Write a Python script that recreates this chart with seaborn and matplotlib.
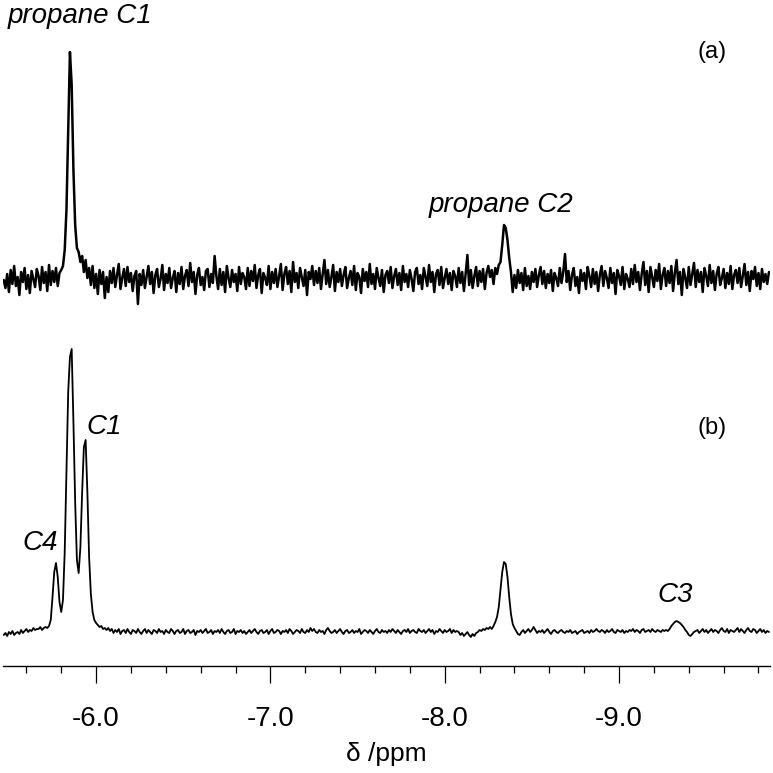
import numpy as np
import matplotlib
matplotlib.use("Agg")
import matplotlib.pyplot as plt
from matplotlib.ticker import MultipleLocator, FuncFormatter
import seaborn as sns

# chemical shift grid, 0.01 ppm steps
shift = np.round(-5.47 - 0.01 * np.arange(440), 2)

# (a) propane spectrum, intensity above its baseline
spec_a = [
    0, -8, 6, -12, 10, -4, 14, -6, 3, -15, 8, -2, 12, -9, 5, -13, 9, 1, -7, 11,
    4, -10, 13, -3, 8, -11, 15, -5, 9, -2, 12, -6, 7, 10, 14, 30, 70, 150, 228, 195,
    110, 55, 32, 28, 18, 24, 8, 20, 2, 12, -5, 14, -8, 6, -14, 10, -4, 8, -18, 3,
    -12, 9, -3, 12, -7, 5, 16, -9, 2, 11, -6, 13, -2, 7, -11, 4, 9, -24, 6, -5,
    10, -8, 3, 14, -4, 8, -13, 5, 11, -7, 1, 15, -10, 6, -3, 12, -8, 2, 9, -12,
    7, -4, 13, -9, 4, 10, -6, 17, -2, 8, -14, 5, 12, -5, 3, -10, 9, 11, -7, 6,
    -3, 24, 4, -9, 11, -5, 8, -12, 14, 2, -7, 10, -2, 6, -11, 13, -4, 7, 3, -9,
    12, -6, 9, -1, 15, -8, 5, 11, -13, 7, 2, -5, 14, -9, 8, -3, 11, -7, 4, 16,
    -10, 6, 13, -4, 9, -12, 18, -2, 7, -8, 12, 3, -6, 10, -15, 8, 1, 14, -5, 9,
    -3, 12, -9, 6, 20, -4, 10, -7, 3, 15, -11, 8, -2, 11, -6, 5, 13, -8, 2, 9,
    -5, 14, -10, 7, 3, -13, 11, -1, 8, -7, 16, -4, 6, -9, 12, 2, -6, 10, -12, 5,
    9, -3, 13, -8, 4, 11, -5, 7, -10, 14, -2, 6, -7, 10, 1, -11, 8, 12, -4, 5,
    -9, 12, 3, -6, 15, -2, 8, -12, 6, 10, -5, 13, -8, 2, 11, -4, 7, -10, 9, 4,
    -7, 12, -3, 8, -11, 6, 25, -5, 10, -8, 4, 13, -6, 9, -2, 11, -9, 7, 14, 3,
    10, -4, 12, 6, 15, 18, 35, 55, 52, 40, 22, 8, -12, 5, -8, 10, -3, 7, -10, 12,
    -6, 4, -9, 8, -2, 11, -7, 5, 13, -4, 9, -8, 6, -3, 10, -11, 7, 2, -6, 12,
    -3, 8, 26, -2, 9, -10, 5, 12, -6, 3, -13, 10, -1, 7, -9, 13, 4, -7, 11, -4,
    8, -11, 5, 14, -6, 9, 2, -8, 12, -3, 7, -14, 10, 4, -5, 13, -9, 6, 1, -7,
    11, -4, 15, -2, 8, -10, 6, 18, -5, 9, -12, 13, 3, -7, 10, -1, 16, -9, 5, 12,
    -6, 9, -3, 14, -11, 7, 20, -4, 8, -15, 11, 2, -8, 13, -5, 6, 17, -7, 10, -2,
    8, -12, 12, 4, -6, 15, -3, 9, -10, 6, 13, -5, 2, 11, -8, 7, -4, 14, -9, 5,
    10, -3, 12, -7, 4, 16, -5, 8, -11, 9, 1, 13, -6, 7, -9, 11, -2, 6, -4, 8,
]

# (b) spectrum, intensity above its baseline
spec_b = [
    -3, -1, -4, 0, -2, 1, -3, -1, 0, -2, 2, -1, 1, 3, 0, 2, 1, 4, 2, 3,
    3, 5, 2, 4, 5, 4, 6, 12, 35, 60, 69, 55, 30, 20, 32, 80, 160, 240, 275, 283,
    210, 130, 72, 59, 85, 140, 185, 192, 140, 75, 38, 20, 12, 9, 7, 5, 6, 3, 4, 2,
    4, 1, 3, -1, 2, 0, 3, -2, 1, 2, -1, 3, 0, -2, 2, 1, -1, 3, 0, -2,
    1, 3, -1, 2, 0, -2, 2, 1, -1, 3, 0, 1, -2, 2, 0, -1, 3, 1, -2, 1,
    2, -1, 0, 3, -2, 1, 2, -1, 0, 2, -3, 1, 0, 2, -1, 1, 3, -1, 0, 2,
    -2, 1, 0, 2, -1, 3, 0, -2, 1, 2, -1, 0, 3, -2, 1, 0, 2, -1, 1, -2,
    0, 2, -1, 1, 3, 0, -2, 1, 2, -1, 0, 2, -2, 1, 3, -1, 0, 2, 1, -2,
    1, 0, 2, -1, 3, 1, -2, 0, 2, 1, -1, 3, 0, -1, 2, 0, 4, 1, 3, 0,
    -1, 2, 0, 1, -2, 2, 4, 1, -1, 0, 2, -1, 1, 3, 0, -2, 1, 2, -1, 0,
    2, -1, 1, 0, 3, -2, 0, 2, 1, -1, 2, 0, -2, 1, 3, 0, -1, 2, 0, 1,
    -1, 2, 0, 3, 1, -1, 2, 0, -2, 1, 2, 0, 3, -1, 1, 2, 0, -1, 3, 1,
    0, 2, -1, 1, 3, 0, 2, -2, 1, 0, 3, 1, -1, 2, 0, 1, 3, -1, 2, 0,
    1, 0, -3, -1, -4, -2, 0, -3, -5, -2, -4, -1, 0, 2, 1, 3, 2, 4, 3, 5,
    3, 6, 10, 15, 25, 42, 60, 70, 68, 55, 35, 18, 8, 4, 1, -2, -3, 0, 2, -1,
    1, 3, 0, 2, 5, 2, -1, 1, 0, 2, -1, 1, 3, 0, -2, 1, 2, 0, -1, 1,
    2, 0, -1, 1, 0, 2, -1, 0, 1, -2, 0, 1, 2, -1, 0, 1, -1, 2, 0, 1,
    3, 1, 0, 2, 1, -1, 2, 0, 1, 3, 0, -1, 2, 1, 0, 2, -1, 1, 0, 2,
    1, 3, 0, 2, 1, -1, 2, 3, 0, 1, 2, 0, 3, 1, 0, 2, 1, 0, 2, 1,
    2, 1, 3, 6, 8, 10, 11, 10, 9, 7, 5, 2, 0, -3, -4, -2, 0, 1, 2, -1,
    1, 3, 0, 2, -1, 1, 3, 0, 2, 1, -1, 2, 4, 1, 0, 3, -1, 2, 1, 0,
    2, 4, 0, 3, 1, -1, 2, 4, 1, 0, 3, 2, -1, 1, 3, 0, 2, -1, 1, 0,
]

major_ticks = [-6.0, -7.0, -8.0, -9.0]

# vertical stacking of the two traces
offset_a = 386
offset_b = 34

sns.set_theme(style="white")
plt.rcParams['font.family'] = ['Liberation Sans', 'DejaVu Sans']
plt.rcParams['axes.unicode_minus'] = False
plt.rcParams['text.color'] = 'black'
plt.rcParams['axes.labelcolor'] = 'black'
plt.rcParams['xtick.color'] = 'black'

fig = plt.figure(figsize=(7.73, 7.73), dpi=100)
ax = fig.add_axes([3 / 773, 107 / 773, 767 / 773, 666 / 773])

sns.lineplot(x=shift, y=np.array(spec_a) + offset_a, ax=ax, color='black',
             lw=1.8, estimator=None, sort=False)
sns.lineplot(x=shift, y=np.array(spec_b) + offset_b, ax=ax, color='black',
             lw=1.3, estimator=None, sort=False)

ax.set_xlim(-5.466, -9.866)
ax.set_ylim(0, 666)

for side in ['left', 'right', 'top']:
    ax.spines[side].set_visible(False)
ax.spines['bottom'].set_color('black')
ax.spines['bottom'].set_linewidth(1.0)
ax.set_yticks([])

ax.set_xticks(major_ticks)
ax.xaxis.set_major_formatter(FuncFormatter(lambda v, p: f"{v:.1f}"))
ax.xaxis.set_minor_locator(MultipleLocator(0.2))
ax.tick_params(axis='x', which='major', direction='out', length=12, width=0.9,
               color='black', labelcolor='black', labelsize=20, pad=17, bottom=True)
ax.tick_params(axis='x', which='minor', direction='out', length=5, width=0.9,
               color='black', bottom=True)
ax.set_xlabel('δ /ppm', fontsize=19, labelpad=7, color='black')

ax.text(-5.495, 650, 'propane C1', fontsize=20, style='italic', ha='left', va='center')
ax.text(-8.324, 461, 'propane C2', fontsize=20, style='italic', ha='center', va='center')
ax.text(-6.049, 239, 'C1', fontsize=20, style='italic', ha='center', va='center')
ax.text(-5.679, 123, 'C4', fontsize=20, style='italic', ha='center', va='center')
ax.text(-9.322, 71, 'C3', fontsize=20, style='italic', ha='center', va='center')
ax.text(-9.534, 614, '(a)', fontsize=17, ha='center', va='center')
ax.text(-9.534, 238, '(b)', fontsize=17, ha='center', va='center')

fig.savefig('out.png', dpi=100)
